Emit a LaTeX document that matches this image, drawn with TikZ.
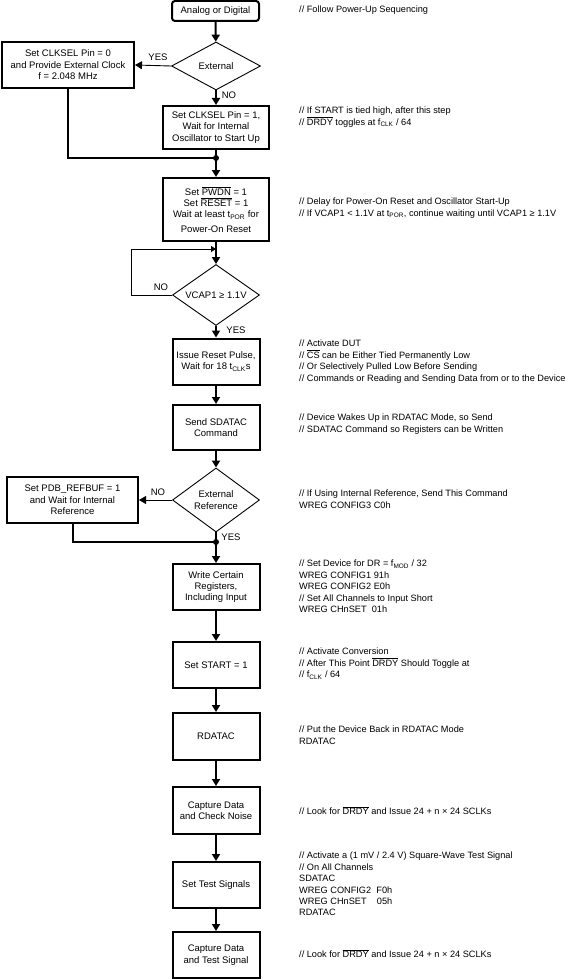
\documentclass[tikz,border=0pt]{standalone}
\usepackage{fontspec}
\setmainfont{Liberation Sans}
\usetikzlibrary{arrows.meta,shapes.geometric}

\newcommand{\ovl}[1]{$\overline{\mbox{#1}}$}
\newcommand{\subs}[1]{\textsubscript{#1}}

\tikzset{
  stepbox/.style={draw, line width=2pt, align=center, inner sep=0pt,
    minimum width=87pt, minimum height=46pt},
  decision/.style={diamond, draw, line width=0.9pt, align=center, inner sep=0pt},
  flow/.style={line width=2pt, -{Triangle[width=8pt,length=7pt]}},
  branch/.style={line width=0.9pt, -{Triangle[width=8pt,length=7pt]}},
  note/.style={anchor=north west, align=left, inner sep=0pt,
    font=\fontsize{9.2}{11.4}\selectfont},
  dot/.style={circle, fill, inner sep=0pt, minimum size=6pt},
}

\begin{document}
\begin{tikzpicture}[x=1pt, y=-1pt, line join=miter,
  font=\fontsize{9.5}{11.4}\selectfont]

\useasboundingbox (0,0) rectangle (572,979);

% main column
\node[stepbox, rounded corners=3pt, minimum height=20pt] (start) at (215.5,11) {Analog or Digital};
\node[decision, minimum width=89pt, minimum height=48pt, aspect=1.85] (ext) at (216,66) {External};
\node[stepbox, minimum width=132pt] (clk0) at (68,65)
  {Set CLKSEL Pin = 0\\and Provide External Clock\\f = 2.048 MHz};
\node[stepbox, minimum width=106pt, minimum height=43pt] (clk1) at (216,127.5)
  {Set CLKSEL Pin = 1,\\Wait for Internal\\Oscillator to Start Up};
\node[dot] (j1) at (216,158) {};
\node[stepbox, minimum width=106pt, minimum height=63pt] (pwdn) at (216,209.5)
  {Set \ovl{PWDN} = 1\\Set \ovl{RESET} = 1\\Wait at least t\subs{POR} for\\[3pt]Power-On Reset};
\coordinate (lp) at (216,249);
\node[decision, minimum width=87pt, minimum height=61pt, aspect=1.43] (vcap) at (216,295) {VCAP1 ≥ 1.1V};
\node[stepbox] (reset) at (216,361.5) {Issue Reset Pulse,\\Wait for 18 t\subs{CLK}s};
\node[stepbox, minimum height=45pt] (sdatac) at (216,427.5) {Send SDATAC\\Command};
\node[decision, minimum width=87pt, minimum height=64pt, aspect=1.36] (extref) at (216,500) {External\\Reference};
\node[stepbox, minimum width=131pt] (refbuf) at (72.5,500)
  {Set PDB\_REFBUF = 1\\and Wait for Internal\\Reference};
\node[dot] (j2) at (216,542) {};
\node[stepbox] (write) at (216,587) {Write Certain\\Registers,\\Including Input};
\node[stepbox] (setstart) at (216,665) {Set START = 1};
\node[stepbox, minimum height=47pt] (rdatac) at (216,736.5) {RDATAC};
\node[stepbox, minimum height=47pt] (capt) at (216,810.5) {Capture Data\\and Check Noise};
\node[stepbox] (test) at (216,885) {Set Test Signals};
\node[stepbox] (capt2) at (216,955) {Capture Data\\and Test Signal};

% connectors
\draw[flow] (start) -- (ext);
\draw[branch] (ext.west) -- (clk0.east);
\draw[flow] (ext.south) -- (clk1.north);
\draw[line width=2pt] (clk0.south) |- (j1.center);
\draw[line width=2pt] (clk1.south) -- (j1.center);
\draw[flow] (j1.center) -- (pwdn.north);
\draw[flow] (pwdn.south) -- (vcap.north);
\draw[line width=0.9pt, -{Triangle[width=6pt,length=5pt]}]
  (vcap.west) -- (131,295) |- (lp);
\draw[flow] (vcap.south) -- (reset.north);
\draw[flow] (reset) -- (sdatac);
\draw[flow] (sdatac) -- (extref);
\draw[branch] (extref.west) -- (refbuf.east);
\draw[line width=2pt] (refbuf.south) |- (j2.center);
\draw[flow] (extref.south) -- (write.north);
\draw[flow] (write) -- (setstart);
\draw[flow] (setstart) -- (rdatac);
\draw[flow] (rdatac) -- (capt);
\draw[flow] (capt) -- (test);
\draw[flow] (test) -- (capt2);

% branch labels
\node (y1) at (158,57) {YES};
\node (n1) at (229,95) {NO};
\node (n2) at (161,287) {NO};
\node (y2) at (236,330) {YES};
\node (n3) at (158,492) {NO};
\node (y3) at (231,537) {YES};

% side comments
\node[note] (c1) at (299,6) {// Follow Power-Up Sequencing};
\node[note] (c2) at (299,107) {// If START is tied high, after this step\\// \ovl{DRDY} toggles at f\subs{CLK} / 64};
\node[note] (c3) at (299,198) {// Delay for Power-On Reset and Oscillator Start-Up\\// If VCAP1 < 1.1V at t\subs{POR}, continue waiting until VCAP1 ≥ 1.1V};
\node[note] (c4) at (299,340) {// Activate DUT\\// \ovl{CS} can be Either Tied Permanently Low\\// Or Selectively Pulled Low Before Sending\\// Commands or Reading and Sending Data from or to the Device};
\node[note] (c5) at (299,414) {// Device Wakes Up in RDATAC Mode, so Send\\// SDATAC Command so Registers can be Written};
\node[note] (c6) at (299,490) {// If Using Internal Reference, Send This Command\\WREG CONFIG3 C0h};
\node[note] (c7) at (299,560) {// Set Device for DR = f\subs{MOD} / 32\\WREG CONFIG1 91h\\WREG CONFIG2 E0h\\// Set All Channels to Input Short\\WREG CHnSET~~01h};
\node[note] (c8) at (299,648) {// Activate Conversion\\// After This Point \ovl{DRDY} Should Toggle at\\// f\subs{CLK} / 64};
\node[note] (c9) at (299,726) {// Put the Device Back in RDATAC Mode\\RDATAC};
\node[note] (c10) at (299,806) {// Look for \ovl{DRDY} and Issue 24 + n × 24 SCLKs};
\node[note] (c11) at (299,852) {// Activate a (1 mV / 2.4 V) Square-Wave Test Signal\\// On All Channels\\SDATAC\\WREG CONFIG2~~F0h\\WREG CHnSET~~~~05h\\RDATAC};
\node[note] (c12) at (299,949) {// Look for \ovl{DRDY} and Issue 24 + n × 24 SCLKs};

\end{tikzpicture}
\end{document}
